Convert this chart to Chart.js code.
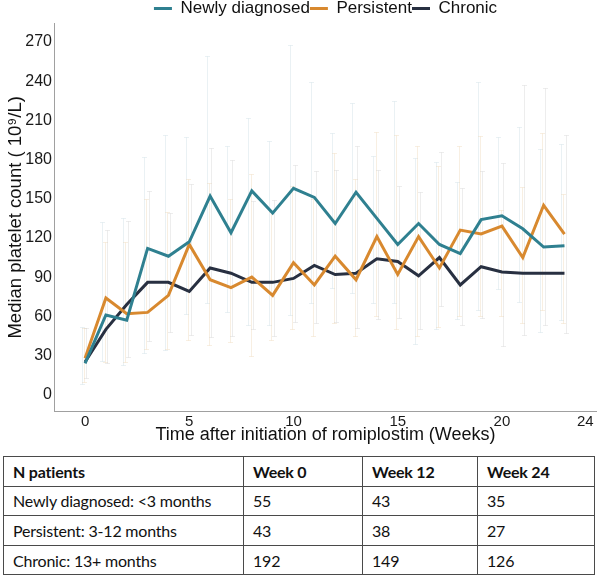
<!DOCTYPE html>
<html>
<head>
<meta charset="utf-8">
<script src="https://cdn.jsdelivr.net/npm/chart.js@4.4.1/dist/chart.umd.min.js"></script>
<style>
  html, body { margin: 0; padding: 0; background: #fff; }
  #wrap { position: relative; width: 597px; height: 576px; overflow: hidden; }
  #chartBox { position: absolute; left: 0; top: 0; width: 597px; height: 452px; }
  #nTable {
    position: absolute; left: 3px; top: 456px;
    border-collapse: collapse; table-layout: fixed;
    font-family: Lato, "Open Sans", sans-serif; font-size: 16px; letter-spacing: -0.2px; color: #111;
  }
  #nTable td { border: 1px solid #4a4a4a; height: 28.6px; padding: 0 0 0 9px; vertical-align: middle; }
  #nTable tr:first-child td { font-weight: bold; }
</style>
</head>
<body>
<div id="wrap">
  <div id="chartBox"><canvas id="plateletChart"></canvas></div>
  <table id="nTable">
    <colgroup><col style="width:240px"><col style="width:119px"><col style="width:115px"><col style="width:117px"></colgroup>
    <tbody id="nBody"></tbody>
  </table>
</div>
<script>
    // --- DATA ---
    const weeks = [0, 1, 2, 3, 4, 5, 6, 7, 8, 9, 10, 11, 12, 13, 14, 15, 16, 17, 18, 19, 20, 21, 22, 23];

    const newlyMedian = [24, 61, 57, 112, 106, 117, 152, 124, 156, 139, 158, 151, 131, 155, 135, 115, 131, 115, 108, 134, 137, 127, 113, 114];
    const persistentMedian = [28, 74, 62, 63, 76, 115, 88, 82, 90, 76, 101, 84, 106, 88, 121, 92, 121, 97, 126, 123, 129, 105, 145, 123];
    const chronicMedian = [25, 50, 69, 86, 86, 79, 97, 93, 86, 86, 89, 99, 92, 93, 104, 102, 91, 105, 84, 98, 94, 93, 93, 93];

    // error bar ranges (upper / lower)
    const newlyHigh = [52, 132, 135, 182, 199, 197, 259, 190, 212, 194, 268, 239, 200, 223, 183, 225, 181, 178, 163, 239, 197, 205, 188, 192];
    const newlyLow = [8, 26, 23, 32, 34, 62, 70, 63, 53, 53, 61, 70, 82, 78, 70, 70, 39, 50, 58, 65, 81, 71, 48, 57];
    const persistentHigh = [51, 117, 117, 150, 140, 165, 162, 150, 169, 140, 160, 150, 185, 165, 201, 199, 190, 175, 190, 198, 141, 159, 200, 154];
    const persistentLow = [10, 25, 25, 35, 35, 42, 38, 40, 30, 42, 50, 45, 55, 45, 60, 50, 45, 52, 60, 60, 60, 55, 65, 55];
    const chronicHigh = [51, 126, 133, 156, 139, 161, 189, 180, 148, 149, 176, 171, 172, 190, 172, 160, 155, 186, 158, 171, 177, 237, 235, 199];
    const chronicLow = [13, 24, 29, 41, 48, 46, 44, 45, 50, 45, 56, 55, 56, 51, 58, 59, 50, 68, 53, 59, 37, 46, 53, 47];

    const xTicks = [0, 5, 10, 15, 20, 24];
    const yTicks = [0, 30, 60, 90, 120, 150, 180, 210, 240, 270];

    const tableHeader = ['N patients', 'Week 0', 'Week 12', 'Week 24'];
    const tableGroups = ['Newly diagnosed: <3 months', 'Persistent: 3-12 months', 'Chronic: 13+ months'];
    const tableWeek0 = [55, 43, 192];
    const tableWeek12 = [43, 38, 149];
    const tableWeek24 = [35, 27, 126];

    const TEAL = '#2f8090';
    const ORANGE = '#d8892f';
    const NAVY = '#283041';
    const FONT = '"Liberation Sans", Arial, sans-serif';

    // --- TABLE ---
    const body = document.getElementById('nBody');
    body.insertAdjacentHTML('beforeend', '<tr>' + tableHeader.map(h => `<td>${h}</td>`).join('') + '</tr>');
    tableGroups.forEach((g, i) => {
        const cells = [g, tableWeek0[i], tableWeek12[i], tableWeek24[i]];
        const row = document.createElement('tr');
        cells.forEach(c => {
            const td = document.createElement('td');
            td.textContent = c;
            row.appendChild(td);
        });
        body.appendChild(row);
    });

    // --- ERROR BARS (drawn under the lines, very faint) ---
    const barSets = [
        { hi: newlyHigh, lo: newlyLow, shift: -0.17, color: 'rgba(190,210,220,0.32)' },
        { hi: persistentHigh, lo: persistentLow, shift: -0.06, color: 'rgba(232,205,165,0.32)' },
        { hi: chronicHigh, lo: chronicLow, shift: 0.06, color: 'rgba(200,200,200,0.32)' }
    ];

    const errorBars = {
        id: 'errorBars',
        beforeDatasetsDraw(chart) {
            const { ctx, scales: { x, y } } = chart;
            ctx.save();
            ctx.lineWidth = 1;
            barSets.forEach(s => {
                ctx.strokeStyle = s.color;
                weeks.forEach((w, i) => {
                    const px = Math.round(x.getPixelForValue(w + s.shift)) + 0.5;
                    const top = Math.round(y.getPixelForValue(s.hi[i])) + 0.5;
                    const bot = Math.round(y.getPixelForValue(s.lo[i])) + 0.5;
                    ctx.beginPath();
                    ctx.moveTo(px, top); ctx.lineTo(px, bot);
                    ctx.moveTo(px - 2.5, top); ctx.lineTo(px + 2.5, top);
                    ctx.moveTo(px - 2.5, bot); ctx.lineTo(px + 2.5, bot);
                    ctx.stroke();
                });
            });
            ctx.restore();
        }
    };

    const toPoints = arr => weeks.map((w, i) => ({ x: w, y: arr[i] }));

    const lineStyle = color => ({
        borderColor: color,
        backgroundColor: color,
        borderWidth: 3,
        pointRadius: 0,
        tension: 0,
        fill: false
    });

    // --- CHART ---
    const ctx = document.getElementById('plateletChart').getContext('2d');
    const plateletChart = new Chart(ctx, {
        type: 'line',
        data: {
            datasets: [
                { label: 'Newly diagnosed', data: toPoints(newlyMedian), ...lineStyle(TEAL) },
                { label: 'Persistent', data: toPoints(persistentMedian), ...lineStyle(ORANGE) },
                { label: 'Chronic', data: toPoints(chronicMedian), ...lineStyle(NAVY) }
            ]
        },
        options: {
            responsive: true,
            maintainAspectRatio: false,
            animation: false,
            layout: { padding: 0 },
            scales: {
                x: {
                    type: 'linear',
                    min: -1.49,
                    max: 24.56,
                    grid: { display: false, drawTicks: false, tickLength: 0 },
                    border: { display: true, color: '#a0a0a0', width: 1 },
                    ticks: { color: '#1a1a1a', font: { family: FONT, size: 15 }, padding: 1, maxRotation: 0, autoSkip: false },
                    afterBuildTicks: s => { s.ticks = xTicks.map(v => ({ value: v })); },
                    afterFit: s => { s.height = 40.3; },
                    title: {
                        display: true,
                        text: 'Time after initiation of romiplostim (Weeks)',
                        color: '#111',
                        font: { family: FONT, size: 18 },
                        padding: { top: 0, bottom: 6 }
                    }
                },
                y: {
                    min: -13,
                    max: 284.5,
                    grid: { display: false, drawTicks: false, tickLength: 0 },
                    border: { display: true, color: '#a0a0a0', width: 1 },
                    ticks: { color: '#1a1a1a', font: { family: FONT, size: 16 }, padding: 2 },
                    afterBuildTicks: s => { s.ticks = yTicks.map(v => ({ value: v })); },
                    afterFit: s => { s.width = 54; },
                    title: {
                        display: true,
                        text: 'Median platelet count ( 10\u2079/L)',
                        color: '#111',
                        font: { family: FONT, size: 18.5 },
                        padding: { top: 5, bottom: 0 }
                    }
                }
            },
            plugins: {
                legend: {
                    position: 'top',
                    fullSize: false,
                    maxHeight: 23,
                    labels: {
                        usePointStyle: true,
                        pointStyle: 'line',
                        pointStyleWidth: 18,
                        padding: 0,
                        color: '#111',
                        font: { family: FONT, size: 17 }
                    }
                },
                tooltip: { enabled: false }
            }
        },
        plugins: [errorBars]
    });
</script>
</body>
</html>
